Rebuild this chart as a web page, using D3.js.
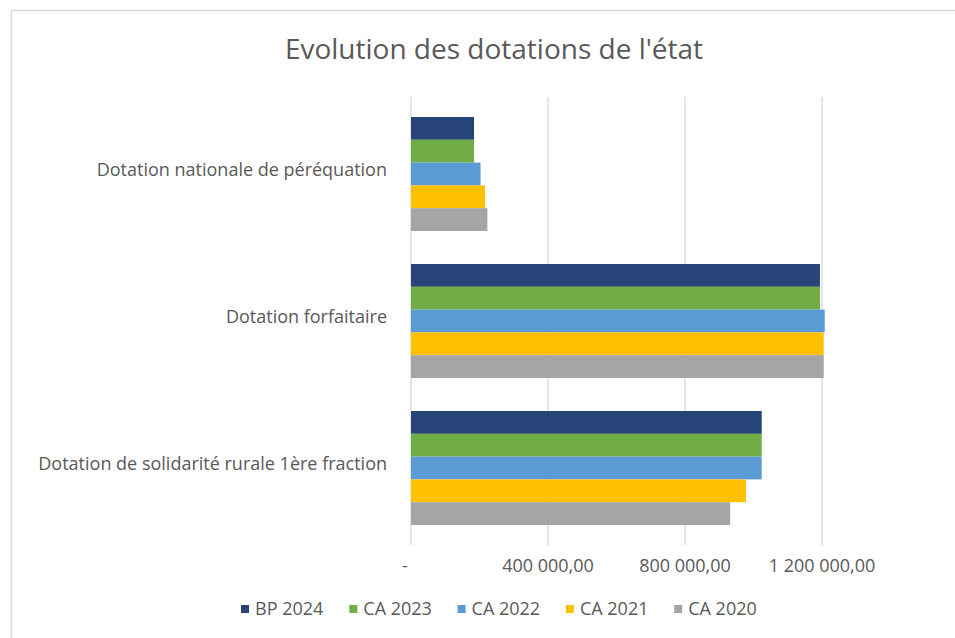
<!DOCTYPE html>
<html>
<head>
<meta charset="utf-8">
<script src="https://cdn.jsdelivr.net/npm/d3@7"></script>
<style>
  body { margin: 0; background: #fff; }
  text { font-family: "Open Sans", sans-serif; fill: #595959; }
</style>
</head>
<body>
<script>
var categories = ["Dotation nationale de péréquation",
                  "Dotation forfaitaire",
                  "Dotation de solidarité rurale 1ère fraction"];
var series = ["BP 2024", "CA 2023", "CA 2022", "CA 2021", "CA 2020"];
var colors = ["#264478", "#70AD47", "#5B9BD5", "#FFC000", "#A5A5A5"];
// values per series, in category order
var bp2024 = [184000, 1194000, 1024000];
var ca2023 = [184000, 1194000, 1024000];
var ca2022 = [203000, 1208000, 1024000];
var ca2021 = [216000, 1205000, 978000];
var ca2020 = [223000, 1205000, 932000];
var tickValues = [0, 400000, 800000, 1200000];

var values = [bp2024, ca2023, ca2022, ca2021, ca2020];

var w = 955;
var h = 638;

var svg = d3.select("body")
            .append("svg")
            .attr("width", w)
            .attr("height", h);

// chart frame (runs off the right and bottom edge)
svg.append("rect")
   .attr("x", 11.5)
   .attr("y", 10.5)
   .attr("width", 1000)
   .attr("height", 700)
   .attr("fill", "#fff")
   .attr("stroke", "#d9d9d9")
   .attr("stroke-width", 1.5);

svg.append("text")
   .attr("x", 494)
   .attr("y", 59)
   .attr("text-anchor", "middle")
   .attr("font-size", "28px")
   .text("Evolution des dotations de l'état");

var xScale = d3.scaleLinear()
               .domain([0, 1600000])
               .range([411, 959]);

var yScale = d3.scaleBand()
               .domain(categories)
               .range([97, 545])
               .paddingInner(0.2245)
               .paddingOuter(0.136);

var ySub = d3.scaleBand()
             .domain(series)
             .range([0, yScale.bandwidth()]);

var locale = d3.formatLocale({decimal: ",", thousands: "\u00a0", grouping: [3], currency: ["", ""]});
var fmt = locale.format(",.2f");

// gridlines
svg.selectAll("line.grid")
   .data(tickValues)
   .enter()
   .append("line")
   .attr("class", "grid")
   .attr("x1", function(d) { return xScale(d); })
   .attr("x2", function(d) { return xScale(d); })
   .attr("y1", 97)
   .attr("y2", 545)
   .attr("stroke", "#d9d9d9")
   .attr("stroke-width", 1.3);

// bars
var groups = svg.selectAll("g.serie")
   .data(series)
   .enter()
   .append("g")
   .attr("class", "serie")
   .attr("fill", function(d, i) { return colors[i]; });

groups.selectAll("rect")
   .data(function(d, i) {
     return values[i].map(function(v, j) { return {s: d, c: categories[j], v: v}; });
   })
   .enter()
   .append("rect")
   .attr("x", xScale(0))
   .attr("y", function(d) { return yScale(d.c) + ySub(d.s); })
   .attr("width", function(d) { return xScale(d.v) - xScale(0); })
   .attr("height", ySub.bandwidth());

// tick labels
svg.selectAll("text.tick")
   .data(tickValues)
   .enter()
   .append("text")
   .attr("class", "tick")
   .attr("x", function(d) { return d === 0 ? xScale(d) - 6 : xScale(d); })
   .attr("y", 572)
   .attr("text-anchor", "middle")
   .attr("font-size", "18px")
   .text(function(d) { return d === 0 ? "-" : fmt(d); });

// category labels
svg.selectAll("text.cat")
   .data(categories)
   .enter()
   .append("text")
   .attr("class", "cat")
   .attr("x", xScale(0) - 24)
   .attr("y", function(d) { return yScale(d) + yScale.bandwidth() / 2 - 4; })
   .attr("dy", "0.35em")
   .attr("text-anchor", "end")
   .attr("font-size", "18px")
   .text(function(d) { return d; });

// legend
var legend = svg.selectAll("g.legend")
   .data(series)
   .enter()
   .append("g")
   .attr("class", "legend")
   .attr("transform", function(d, i) { return "translate(" + (241 + i * 108.3) + ",609)"; });

legend.append("rect")
   .attr("x", 0)
   .attr("y", -4)
   .attr("width", 8)
   .attr("height", 8)
   .attr("fill", function(d, i) { return colors[i]; });

legend.append("text")
   .attr("x", 14)
   .attr("dy", "0.35em")
   .attr("font-size", "18px")
   .text(function(d) { return d; });
</script>
</body>
</html>
